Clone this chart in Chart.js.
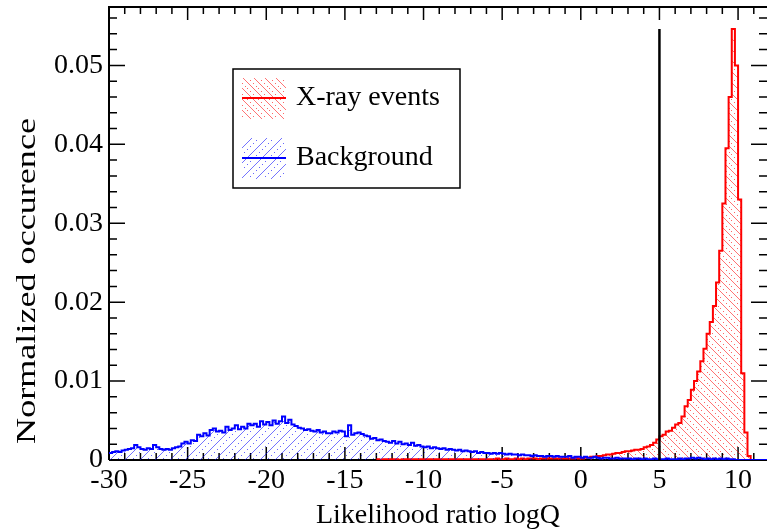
<!DOCTYPE html>
<html lang="en">
<head>
  <meta charset="UTF-8">
  <title>Likelihood ratio logQ</title>
  <script src="https://cdn.jsdelivr.net/npm/chart.js"></script>
  <style>
    html, body { margin: 0; padding: 0; background: #fff; overflow: hidden; }
    canvas { display: block; }
  </style>
</head>
<body>
  <canvas id="logQChart" width="767" height="532"></canvas>
  <script>
    // shared binning of both histograms
    const binWidth = 0.2;
    const xMin = -30;
    const xMax = 11.84;
    const yMax = 0.0574;
    const cutValue = 5;

    // background sample, bins starting at -30
    const backgroundStart = -30;
    const backgroundCounts = [
      0.0009, 0.0010, 0.0011, 0.0010, 0.0012,
      0.0013, 0.0014, 0.0015, 0.0019, 0.0016,
      0.0014, 0.0013, 0.0015, 0.0014, 0.0019,
      0.0016, 0.0014, 0.0013, 0.0014, 0.0013,
      0.0015, 0.0016, 0.0017, 0.0021, 0.0023,
      0.0021, 0.0025, 0.0024, 0.0032, 0.0030,
      0.0034, 0.0031, 0.0038, 0.0040, 0.0036,
      0.0037, 0.0035, 0.0042, 0.0038, 0.0040,
      0.0044, 0.0039, 0.0042, 0.0040, 0.0046,
      0.0044, 0.0046, 0.0042, 0.0049, 0.0045,
      0.0048, 0.0044, 0.0050, 0.0046, 0.0049,
      0.0055, 0.0047, 0.0051, 0.0045, 0.0043,
      0.0041, 0.0040, 0.0038, 0.0039, 0.0037,
      0.0036, 0.0038, 0.0035, 0.0036, 0.0034,
      0.0034, 0.0036, 0.0035, 0.0037, 0.0036,
      0.0030, 0.0044, 0.0032, 0.0034, 0.0035,
      0.0033, 0.0031, 0.0030, 0.0027, 0.0028,
      0.0025, 0.0026, 0.0024, 0.0023, 0.0022,
      0.0024, 0.0021, 0.0023, 0.0020, 0.0021,
      0.0019, 0.0022, 0.0018, 0.0019, 0.0017,
      0.0016, 0.0017, 0.0015, 0.0016, 0.0015,
      0.0014, 0.0015, 0.0013, 0.0014, 0.0013,
      0.0012, 0.0013, 0.0011, 0.0012, 0.0011,
      0.0010, 0.0011, 0.0009, 0.0010, 0.0009,
      0.0009, 0.0008, 0.0009, 0.0008, 0.0009,
      0.0008, 0.0007, 0.0008, 0.0007, 0.0007,
      0.0006, 0.0007, 0.0006, 0.0006, 0.0005,
      0.0006, 0.0005, 0.0005, 0.0004, 0.0005,
      0.0005, 0.0004, 0.0005, 0.0004, 0.0004,
      0.0004, 0.0005, 0.0003, 0.0004, 0.0004,
      0.0003, 0.0004, 0.0003, 0.0003, 0.0004,
      0.0003, 0.0002, 0.0003, 0.0003, 0.0002,
      0.0002, 0.0003, 0.0002, 0.0002, 0.0002,
      0.0002, 0.0001, 0.0002, 0.0002, 0.0001,
      0.0002, 0.0001, 0.0001, 0.0002, 0.0001,
      0.0001, 0.0001, 0.0002, 0.0001, 0.0001,
      0.0001, 0.0002, 0.0001, 0.0002, 0.0002,
      0.0003, 0.0002, 0.0003, 0.0002, 0.0001,
      0.0002, 0.0001, 0.0002, 0.0001, 0.0002,
      0.0001, 0.0002, 0.0001, 0.0001, 0.0000
    ];

    // X-ray sample, bins starting at -13
    const xrayStart = -13;
    const xrayCounts = [
      0.0001, 0.0000, 0.0001, 0.0001, 0.0001,
      0.0001, 0.0001, 0.0000, 0.0001, 0.0001,
      0.0001, 0.0001, 0.0001, 0.0001, 0.0001,
      0.0001, 0.0001, 0.0001, 0.0001, 0.0001,
      0.0001, 0.0001, 0.0001, 0.0001, 0.0001,
      0.0001, 0.0001, 0.0001, 0.0001, 0.0001,
      0.0001, 0.0001, 0.0001, 0.0001, 0.0001,
      0.0001, 0.0001, 0.0001, 0.0002, 0.0001,
      0.0001, 0.0002, 0.0001, 0.0001, 0.0002,
      0.0001, 0.0002, 0.0001, 0.0002, 0.0002,
      0.0002, 0.0001, 0.0002, 0.0002, 0.0002,
      0.0002, 0.0002, 0.0002, 0.0002, 0.0002,
      0.0002, 0.0002, 0.0002, 0.0003, 0.0002,
      0.0002, 0.0003, 0.0003, 0.0004, 0.0004,
      0.0005, 0.0005, 0.0006, 0.0007, 0.0007,
      0.0008, 0.0009, 0.0009, 0.0010, 0.0011,
      0.0011, 0.0012, 0.0013, 0.0013, 0.0014,
      0.0016, 0.0017, 0.0019, 0.0022, 0.0026,
      0.0030, 0.0032, 0.0036, 0.0037, 0.0041,
      0.0045, 0.0047, 0.0055, 0.0068, 0.0076,
      0.0089, 0.0100, 0.0112, 0.0125, 0.0141,
      0.0160, 0.0175, 0.0195, 0.0225, 0.0265,
      0.0325, 0.0395, 0.0460, 0.0546, 0.0500,
      0.0330, 0.0110, 0.0035, 0.0005
    ];

    const xTickValues = [-30, -25, -20, -15, -10, -5, 0, 5, 10];
    const yTickValues = [0, 0.01, 0.02, 0.03, 0.04, 0.05];

    const FONT = 'Liberation Serif, Times New Roman, serif';

    // step outline: one point per lower bin edge, closed back to zero
    function histPoints(start, counts) {
      const pts = counts.map((c, i) => ({ x: start + i * binWidth, y: c }));
      const end = start + counts.length * binWidth;
      pts.push({ x: end, y: 0 });
      pts.push({ x: xMax, y: 0 });
      return pts;
    }

    // hatched fills: diagonal lines plus a dotted diagonal in between
    function hatch(r, g, b, size, rising) {
      const c = document.createElement('canvas');
      c.width = size; c.height = size;
      const p = c.getContext('2d');
      p.strokeStyle = `rgba(${r},${g},${b},0.55)`;
      p.fillStyle = `rgba(${r},${g},${b},0.6)`;
      p.lineWidth = 1;
      p.beginPath();
      if (rising) {
        p.moveTo(-1, size + 1); p.lineTo(size + 1, -1);
      } else {
        p.moveTo(-1, -1); p.lineTo(size + 1, size + 1);
      }
      p.stroke();
      const half = Math.floor(size / 2);
      for (let k = 0; k < size; k += 3) {
        const px = (half + k) % size;
        const py = rising ? size - 1 - k : k;
        p.fillRect(px, py, 1, 1);
      }
      return p.createPattern(c, 'repeat');
    }

    const ctx0 = document.getElementById('logQChart').getContext('2d');
    const redHatch = hatch(255, 0, 0, 11, false);
    const blueHatch = hatch(0, 0, 255, 15, true);

    const peak = Math.max(...xrayCounts);

    // frame and inward ticks on all four sides, drawn under the histograms
    const framePlugin = {
      id: 'frame',
      beforeDatasetsDraw(chart) {
        const { ctx, chartArea: a, scales: { x, y } } = chart;
        ctx.save();
        ctx.strokeStyle = '#000';
        ctx.lineWidth = 2;
        ctx.beginPath();
        ctx.moveTo(a.left, a.bottom); ctx.lineTo(a.left, a.top); ctx.lineTo(a.right, a.top);
        ctx.moveTo(a.left, a.bottom); ctx.lineTo(a.right, a.bottom);
        ctx.stroke();
        ctx.lineWidth = 1.5;
        ctx.beginPath();
        for (let v = Math.ceil(x.min); v <= x.max; v++) {
          const px = x.getPixelForValue(v);
          const len = v % 5 === 0 ? 13 : 7;
          ctx.moveTo(px, a.bottom); ctx.lineTo(px, a.bottom - len);
          ctx.moveTo(px, a.top); ctx.lineTo(px, a.top + len);
        }
        for (let k = 0; k * 0.002 <= y.max; k++) {
          const py = y.getPixelForValue(k * 0.002);
          const len = k % 5 === 0 ? 16 : 8;
          ctx.moveTo(a.left, py); ctx.lineTo(a.left + len, py);
          ctx.moveTo(a.right, py); ctx.lineTo(a.right - len, py);
        }
        ctx.stroke();
        ctx.restore();
      },
      afterDraw(chart) {
        const { ctx } = chart;
        ctx.save();
        // y axis title, stretched along its baseline
        ctx.translate(28, 281);
        ctx.rotate(-Math.PI / 2);
        ctx.scale(1.29, 1);
        ctx.fillStyle = '#000';
        ctx.font = '28px ' + FONT;
        ctx.textAlign = 'center';
        ctx.textBaseline = 'middle';
        ctx.fillText('Normalized occurence', 0, 0);
        ctx.restore();

        // legend box
        ctx.save();
        ctx.fillStyle = '#fff';
        ctx.fillRect(233, 69, 227, 119);
        ctx.strokeStyle = '#000';
        ctx.lineWidth = 1.5;
        ctx.strokeRect(233, 69, 227, 119);
        const ds = chart.data.datasets;
        const rows = [{ d: ds[0], top: 78, mid: 98 }, { d: ds[1], top: 138, mid: 158 }];
        rows.forEach(r => {
          ctx.fillStyle = r.d.backgroundColor;
          ctx.fillRect(242, r.top, 44, 41);
          ctx.strokeStyle = r.d.borderColor;
          ctx.lineWidth = 2;
          ctx.beginPath();
          ctx.moveTo(242, r.mid); ctx.lineTo(286, r.mid);
          ctx.stroke();
          ctx.fillStyle = '#000';
          ctx.font = '28px ' + FONT;
          ctx.textAlign = 'left';
          ctx.textBaseline = 'middle';
          ctx.fillText(r.d.label, 296, r.mid);
        });
        ctx.restore();
      }
    };

    new Chart(ctx0, {
      type: 'line',
      data: {
        datasets: [
          {
            label: 'X-ray events',
            data: histPoints(xrayStart, xrayCounts),
            borderColor: '#ff0000',
            backgroundColor: redHatch,
            borderWidth: 2,
            fill: 'origin',
            stepped: 'before',
            pointRadius: 0,
            order: 2
          },
          {
            label: 'Background',
            data: histPoints(backgroundStart, backgroundCounts),
            borderColor: '#0000ff',
            backgroundColor: blueHatch,
            borderWidth: 2,
            fill: 'origin',
            stepped: 'before',
            pointRadius: 0,
            order: 1
          },
          {
            label: 'cut',
            data: [{ x: cutValue, y: 0 }, { x: cutValue, y: peak }],
            borderColor: '#000',
            borderWidth: 2.5,
            pointRadius: 0,
            fill: false,
            order: 0
          }
        ]
      },
      options: {
        responsive: false,
        animation: false,
        devicePixelRatio: 1,
        layout: { padding: { top: 7, left: 0, right: 0, bottom: 0 } },
        plugins: { legend: { display: false }, tooltip: { enabled: false } },
        scales: {
          x: {
            type: 'linear',
            min: xMin,
            max: xMax,
            afterFit: s => { s.height = 72; s.paddingLeft = 0; s.paddingRight = 0; },
            afterBuildTicks: s => { s.ticks = xTickValues.map(v => ({ value: v })); },
            grid: { display: false, drawTicks: false },
            border: { display: false },
            ticks: {
              autoSkip: false,
              maxRotation: 0,
              padding: 4,
              color: '#000',
              font: { family: FONT, size: 28 },
              callback: v => String(v)
            },
            title: {
              display: true,
              text: 'Likelihood ratio logQ',
              color: '#000',
              font: { family: FONT, size: 28 },
              padding: { top: 0, bottom: 0 }
            }
          },
          y: {
            min: 0,
            max: yMax,
            afterFit: s => { s.width = 109; s.paddingTop = 0; s.paddingBottom = 0; },
            afterBuildTicks: s => { s.ticks = yTickValues.map(v => ({ value: v })); },
            grid: { display: false, drawTicks: false },
            border: { display: false },
            ticks: {
              padding: 6,
              color: '#000',
              font: { family: FONT, size: 28 },
              callback: v => (v === 0 ? '0' : v.toFixed(2))
            }
          }
        }
      },
      plugins: [framePlugin]
    });
  </script>
</body>
</html>
